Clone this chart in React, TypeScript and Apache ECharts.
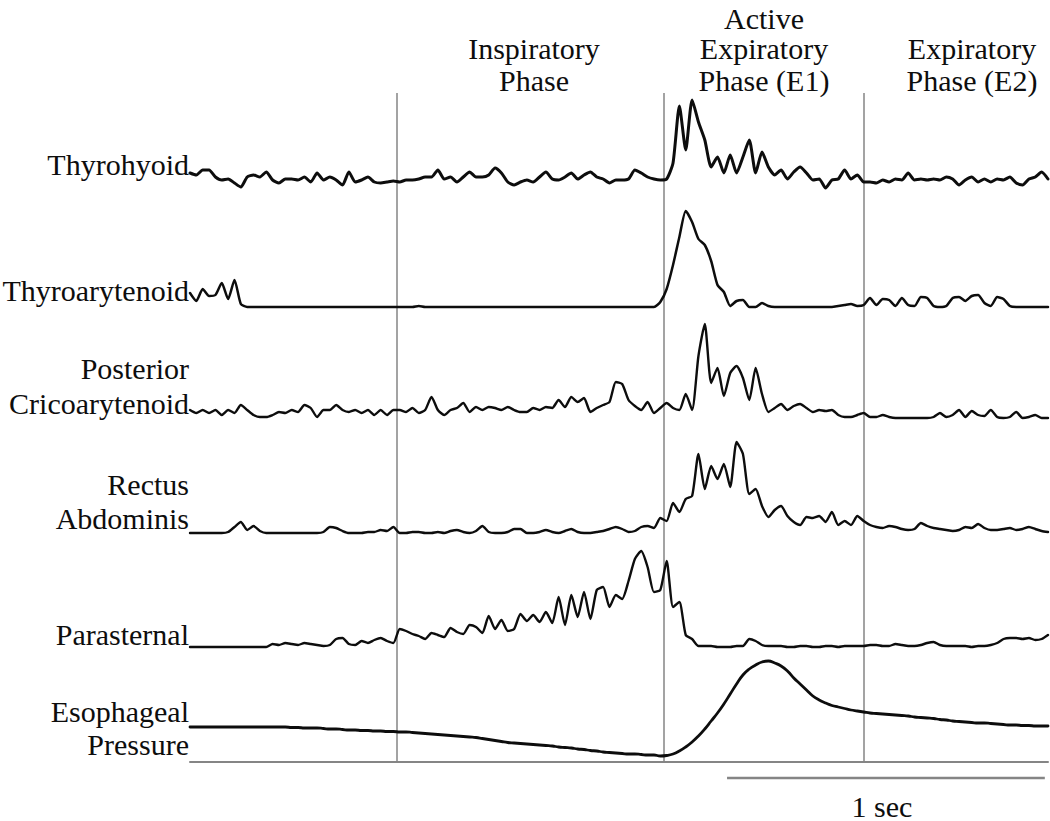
import { useEffect, useRef } from "react";
import * as echarts from "echarts";

// ---------- data (time base: one sample every 0.02 s, 0 … 2.70 s) ----------
const SAMPLE_STEP_S = 0.02;
const RECORD_END_S = 2.7;

// rectified / integrated EMG amplitude (arbitrary units)
const thyrohyoid = [
  19, 17, 22, 22, 15, 12, 13, 9, 5, 15,
  17, 15, 20, 12, 9, 13, 13, 12, 15, 10,
  19, 12, 15, 12, 7, 20, 10, 12, 15, 10,
  9, 10, 11, 10, 12, 12, 13, 15, 15, 22,
  13, 15, 10, 15, 20, 15, 15, 17, 24, 19,
  10, 7, 10, 12, 10, 15, 20, 13, 12, 15,
  19, 13, 17, 20, 15, 13, 9, 12, 12, 13,
  22, 19, 15, 13, 12, 13, 29, 86, 42, 92,
  70, 52, 25, 35, 19, 37, 19, 35, 52, 19,
  40, 25, 17, 22, 13, 20, 25, 19, 12, 13,
  4, 12, 13, 22, 13, 17, 10, 10, 9, 12,
  10, 13, 12, 19, 12, 13, 12, 13, 12, 15,
  13, 7, 12, 15, 10, 13, 10, 13, 12, 15,
  9, 7, 13, 15, 20, 13,
];

const thyroarytenoid = [
  14, 6, 18, 11, 12, 24, 8, 27, 3, 0,
  0, 0, 0, 0, 0, 0, 0, 0, 0, 0,
  0, 0, 0, 0, 0, 0, 0, 0, 0, 0,
  0, 0, 0, 0, 0, 0, 1, 0, 0, 0,
  0, 0, 0, 0, 0, 0, 0, 0, 0, 0,
  0, 0, 0, 0, 0, 0, 0, 0, 0, 0,
  0, 0, 0, 0, 0, 0, 0, 0, 0, 0,
  0, 0, 0, 0, 5, 18, 42, 70, 96, 85,
  68, 62, 46, 22, 15, 1, 6, 7, 0, 0,
  4, 1, 0, 0, 0, 0, 0, 0, 0, 0,
  0, 0, 1, 2, 3, 1, 2, 9, 2, 8,
  7, 1, 9, 2, 1, 10, 9, 1, 0, 1,
  9, 10, 6, 11, 12, 4, 1, 10, 8, 1,
  0, 0, 0, 0, 0, 0,
];

const posteriorCricoarytenoid = [
  8, 5, 8, 5, 8, 3, 8, 5, 13, 8,
  3, 1, 1, 3, 6, 5, 8, 6, 13, 10,
  1, 8, 8, 13, 8, 6, 8, 5, 8, 3,
  8, 3, 8, 8, 6, 10, 5, 8, 21, 8,
  3, 8, 10, 15, 6, 11, 8, 11, 10, 8,
  11, 8, 6, 6, 10, 8, 11, 10, 18, 11,
  21, 16, 20, 6, 10, 13, 16, 36, 34, 18,
  12, 8, 16, 5, 10, 15, 10, 8, 24, 8,
  62, 94, 35, 50, 22, 45, 52, 40, 18, 50,
  24, 6, 10, 14, 8, 12, 14, 10, 6, 8,
  7, 8, 3, 1, 1, 3, 5, 1, 1, 3,
  1, 0, 0, 0, 0, 0, 0, 1, 5, 1,
  3, 8, 1, 7, 3, 2, 8, 1, 0, 1,
  6, 0, 1, 3, 0, 0,
];

const rectusAbdominis = [
  1, 1, 1, 1, 1, 1, 2, 7, 12, 4,
  8, 3, 1, 1, 1, 1, 1, 1, 1, 1,
  1, 2, 7, 6, 3, 1, 1, 1, 2, 2,
  4, 3, 7, 1, 1, 2, 2, 1, 1, 2,
  1, 3, 4, 2, 1, 3, 8, 2, 1, 1,
  2, 5, 5, 1, 1, 2, 4, 2, 1, 3,
  5, 2, 1, 1, 2, 3, 5, 7, 5, 2,
  3, 7, 8, 6, 16, 13, 31, 22, 35, 38,
  80, 45, 68, 55, 70, 47, 92, 80, 40, 45,
  28, 17, 24, 28, 18, 12, 9, 17, 16, 18,
  12, 22, 9, 13, 9, 18, 13, 9, 7, 6,
  8, 7, 5, 4, 5, 11, 8, 6, 5, 4,
  3, 4, 7, 6, 10, 6, 4, 4, 5, 6,
  4, 5, 7, 5, 3, 2,
];

const parasternal = [
  0, 0, 0, 0, 0, 0, 0, 0, 0, 0,
  0, 0, 0, 3, 2, 4, 3, 2, 4, 3,
  2, 1, 2, 8, 9, 3, 2, 6, 4, 7,
  9, 6, 4, 18, 16, 13, 11, 8, 14, 12,
  10, 19, 15, 13, 22, 20, 14, 31, 18, 27,
  16, 18, 33, 26, 32, 25, 35, 24, 50, 22,
  52, 30, 55, 28, 57, 60, 40, 52, 48, 66,
  88, 96, 80, 55, 57, 86, 40, 45, 12, 8,
  1, 1, 1, 0, 0, 0, 1, 1, 8, 6,
  2, 1, 1, 1, 0, 0, 1, 1, 0, 0,
  1, 1, 0, 1, 1, 1, 1, 2, 2, 1,
  1, 3, 2, 1, 1, 2, 4, 5, 2, 1,
  1, 1, 1, 0, 1, 1, 2, 4, 8, 9,
  9, 8, 9, 7, 8, 12,
];

// esophageal pressure (arbitrary units above the reference line)
const esophagealPressure = [
  35, 35, 35, 35, 35, 35, 35, 35, 35, 35,
  35, 35, 35, 35, 35, 35, 34.5, 34.5, 34, 34,
  34, 33.5, 33, 33, 32.5, 32, 32, 31.5, 31.5, 31,
  31, 30.5, 30.5, 30, 30, 29.5, 29, 28.5, 28, 27.5,
  27, 26.5, 26, 25.5, 25, 24.5, 23.5, 22.5, 21.5, 20.5,
  19.5, 19, 18.5, 18, 17.5, 17, 16.5, 16, 15, 14.5,
  14, 13, 12.5, 11.5, 11, 10, 9.5, 9, 8.5, 8,
  8, 7.5, 7, 7, 6, 6.5, 8, 11, 15, 20,
  26, 33, 41, 49, 58, 68, 78, 87, 93, 97,
  100, 101, 99, 96, 91, 84, 78, 72, 66, 62,
  59, 56.5, 55, 53.5, 52, 51, 50, 49, 48.5, 48,
  47.5, 47, 46.5, 46, 45, 44.5, 44, 43.5, 42.5, 42,
  41, 40.5, 40, 39.5, 39, 39, 38.5, 38, 37.5, 37,
  37, 36.5, 36.5, 36, 36, 36,
];

const traces = [
  thyrohyoid,
  thyroarytenoid,
  posteriorCricoarytenoid,
  rectusAbdominis,
  parasternal,
  esophagealPressure,
];
const traceLabels = [
  ["Thyrohyoid"],
  ["Thyroarytenoid"],
  ["Posterior", "Cricoarytenoid"],
  ["Rectus", "Abdominis"],
  ["Parasternal"],
  ["Esophageal", "Pressure"],
];

const phaseBoundariesS = [0.645, 1.492, 2.118];
const phaseTitles = [
  ["Inspiratory", "Phase"],
  ["Active", "Expiratory", "Phase (E1)"],
  ["Expiratory", "Phase (E2)"],
];
const scaleBarStartS = 1.69;
const scaleBarLengthS = 1;
const scaleBarLabel = "1 sec";

// ---------- layout ----------
const PLOT_LEFT = 190;
const PLOT_RIGHT = 2;
const traceLayout = [
  { baseline: 192, height: 100, width: 3.0, smooth: 0.2 },
  { baseline: 307, height: 100, width: 2.5, smooth: 0.2 },
  { baseline: 418, height: 100, width: 2.4, smooth: 0.2 },
  { baseline: 534, height: 100, width: 2.4, smooth: 0.2 },
  { baseline: 647, height: 100, width: 2.4, smooth: 0.2 },
  { baseline: 762, height: 110, width: 2.8, smooth: 0.5 },
];
const labelRight = 189;
const labelRowsY = [[164], [290], [368, 403], [484, 518], [634], [711, 744]];
const titleCenters = [534, 764, 972];
const titleRowsY = [[48, 80], [18, 48, 80], [48, 80]];
const PHASE_TOP = 93;
const PHASE_BOTTOM = 762;
const SCALE_Y = 778;
const SCALE_LABEL = { x: 882, y: 806 };

const FONT = '"Liberation Serif", "Times New Roman", serif';
const FONT_SIZE = 30;
const INK = "#0d0d0d";
const GRAY = "#858585";

export default function App() {
  const ref = useRef<HTMLDivElement | null>(null);

  useEffect(() => {
    if (!ref.current) return;
    const chart = echarts.init(ref.current, undefined, { renderer: "svg" });

    const grids: any[] = [];
    const xAxes: any[] = [];
    const yAxes: any[] = [];
    const series: any[] = [];

    traces.forEach((values, k) => {
      const L = traceLayout[k];
      grids.push({ left: PLOT_LEFT, right: PLOT_RIGHT, top: L.baseline - L.height, height: L.height });
      xAxes.push({ gridIndex: k, type: "value", min: 0, max: RECORD_END_S, show: false });
      yAxes.push({ gridIndex: k, type: "value", min: 0, max: L.height, show: false });
      series.push({
        type: "line",
        xAxisIndex: k,
        yAxisIndex: k,
        data: values.map((v, i) => [+(i * SAMPLE_STEP_S).toFixed(3), v]),
        showSymbol: false,
        symbol: "none",
        smooth: L.smooth,
        clip: false,
        z: 5,
        lineStyle: { color: INK, width: L.width, join: "round", cap: "round" },
      });
    });

    // overlay grid: phase boundaries and reference line
    const ov = traces.length;
    grids.push({ left: PLOT_LEFT, right: PLOT_RIGHT, top: PHASE_TOP, height: PHASE_BOTTOM - PHASE_TOP });
    xAxes.push({
      gridIndex: ov,
      type: "value",
      min: 0,
      max: RECORD_END_S,
      axisLine: { show: true, onZero: false, lineStyle: { color: GRAY, width: 2 } },
      axisTick: { show: false },
      axisLabel: { show: false },
      splitLine: { show: false },
    });
    yAxes.push({ gridIndex: ov, type: "value", min: 0, max: 1, show: false });
    series.push({
      type: "line",
      xAxisIndex: ov,
      yAxisIndex: ov,
      data: [[0, -5]],
      showSymbol: false,
      symbol: "none",
      lineStyle: { opacity: 0 },
      z: 1,
      markLine: {
        silent: true,
        symbol: ["none", "none"],
        label: { show: false },
        lineStyle: { color: GRAY, width: 1.5, type: "solid" },
        data: phaseBoundariesS.map((t) => ({ xAxis: t })),
      },
    });

    // scale bar grid
    const sb = ov + 1;
    grids.push({ left: PLOT_LEFT, right: PLOT_RIGHT, top: SCALE_Y - 4, height: 8 });
    xAxes.push({ gridIndex: sb, type: "value", min: 0, max: RECORD_END_S, show: false });
    yAxes.push({ gridIndex: sb, type: "value", min: -1, max: 1, show: false });
    series.push({
      type: "line",
      xAxisIndex: sb,
      yAxisIndex: sb,
      data: [
        [scaleBarStartS, 0],
        [scaleBarStartS + scaleBarLengthS, 0],
      ],
      showSymbol: false,
      symbol: "none",
      lineStyle: { color: GRAY, width: 2.5 },
    });

    const graphic: any[] = [];
    const textStyle = (txt: string, align: string) => ({
      text: txt,
      fill: INK,
      fontFamily: FONT,
      fontSize: FONT_SIZE,
      align,
      verticalAlign: "middle",
    });
    traceLabels.forEach((lines, k) => {
      lines.forEach((txt, j) => {
        graphic.push({ type: "text", x: labelRight, y: labelRowsY[k][j], style: textStyle(txt, "right") });
      });
    });
    phaseTitles.forEach((lines, k) => {
      lines.forEach((txt, j) => {
        graphic.push({ type: "text", x: titleCenters[k], y: titleRowsY[k][j], style: textStyle(txt, "center") });
      });
    });
    graphic.push({ type: "text", x: SCALE_LABEL.x, y: SCALE_LABEL.y, style: textStyle(scaleBarLabel, "center") });

    chart.setOption({
      animation: false,
      backgroundColor: "#ffffff",
      grid: grids,
      xAxis: xAxes,
      yAxis: yAxes,
      series,
      graphic,
    });

    return () => chart.dispose();
  }, []);

  return (
    <div
      ref={ref}
      style={{ position: "fixed", left: 0, top: 0, width: 1050, height: 821, background: "#fff" }}
    />
  );
}
